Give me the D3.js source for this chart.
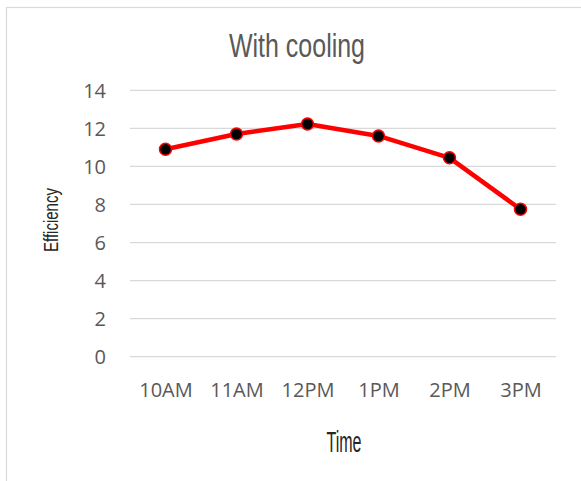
<!DOCTYPE html>
<html><head><meta charset="utf-8">
<script src="https://cdn.jsdelivr.net/npm/d3@7"></script>
<style>body{margin:0;background:#fff}svg{display:block}</style>
</head><body>
<script>
const categories = ["10AM","11AM","12PM","1PM","2PM","3PM"];
const efficiency = [10.9, 11.7, 12.23, 11.6, 10.45, 7.75];
const yTicks = [0,2,4,6,8,10,12,14];
const title = "With cooling";
const xTitle = "Time";
const yTitle = "Efficiency";

(function(){
const W = 581, H = 481;
const svg = d3.select("body").append("svg").attr("width", W).attr("height", H);
svg.append("rect").attr("x",6.5).attr("y",7.5).attr("width",W).attr("height",H)
  .attr("fill","#fff").attr("stroke","#d9d9d9").attr("stroke-width",1.2);

const pLeft = 130, pRight = 556, pTop = 90.3, pBottom = 356.7;
const x = d3.scalePoint().domain(categories).range([pLeft, pRight]).padding(0.5);
const y = d3.scaleLinear().domain([0,14]).range([pBottom, pTop]);

const font = "'Open Sans', 'Liberation Sans', sans-serif";

svg.append("g").selectAll("line").data(yTicks).join("line")
  .attr("x1", pLeft).attr("x2", pRight)
  .attr("y1", d => y(d)).attr("y2", d => y(d))
  .attr("stroke", "#d9d9d9").attr("stroke-width", 1.3);

const yAxis = d3.axisLeft(y).tickValues(yTicks).tickSize(0).tickPadding(0);
const gy = svg.append("g").attr("transform", `translate(${106},0)`).call(yAxis);
gy.select(".domain").remove();
gy.selectAll("text").attr("fill","#595959").style("font-family", font).style("font-size","20px").attr("dy","0.36em");

const xAxis = d3.axisBottom(x).tickSize(0).tickPadding(0);
const gx = svg.append("g").attr("transform", `translate(0,${383})`).call(xAxis);
gx.select(".domain").remove();
gx.selectAll("text").attr("fill","#595959").style("font-family", font).style("font-size","20px").attr("dy","0.71em");

const line = d3.line().x((d,i)=>x(categories[i])).y(d=>y(d));
svg.append("path").datum(efficiency).attr("d", line)
  .attr("fill","none").attr("stroke","#ff0000").attr("stroke-width",4.5).attr("stroke-linejoin","round");
svg.append("g").selectAll("circle").data(efficiency).join("circle")
  .attr("cx",(d,i)=>x(categories[i])).attr("cy",d=>y(d)).attr("r",6)
  .attr("fill","#000").attr("stroke","#ff0000").attr("stroke-width",1.5);

svg.append("text").attr("x", 297).attr("y", 57).attr("text-anchor","middle")
  .attr("textLength", 136).attr("lengthAdjust","spacingAndGlyphs")
  .attr("fill","#595959").style("font-family","'Liberation Sans', Arial, sans-serif").style("font-size","34px").text(title);

svg.append("text").attr("transform","translate(58,220) rotate(-90)").attr("text-anchor","middle")
  .attr("textLength", 64).attr("lengthAdjust","spacingAndGlyphs")
  .attr("fill","#262626").style("font-family","'Liberation Sans', Arial, sans-serif").style("font-size","20px").text(yTitle);

svg.append("text").attr("x", 344).attr("y", 452).attr("text-anchor","middle")
  .attr("textLength", 35).attr("lengthAdjust","spacingAndGlyphs")
  .attr("fill","#262626").style("font-family","'Liberation Sans', Arial, sans-serif").style("font-size","29px").text(xTitle);
})();
</script>
</body></html>
